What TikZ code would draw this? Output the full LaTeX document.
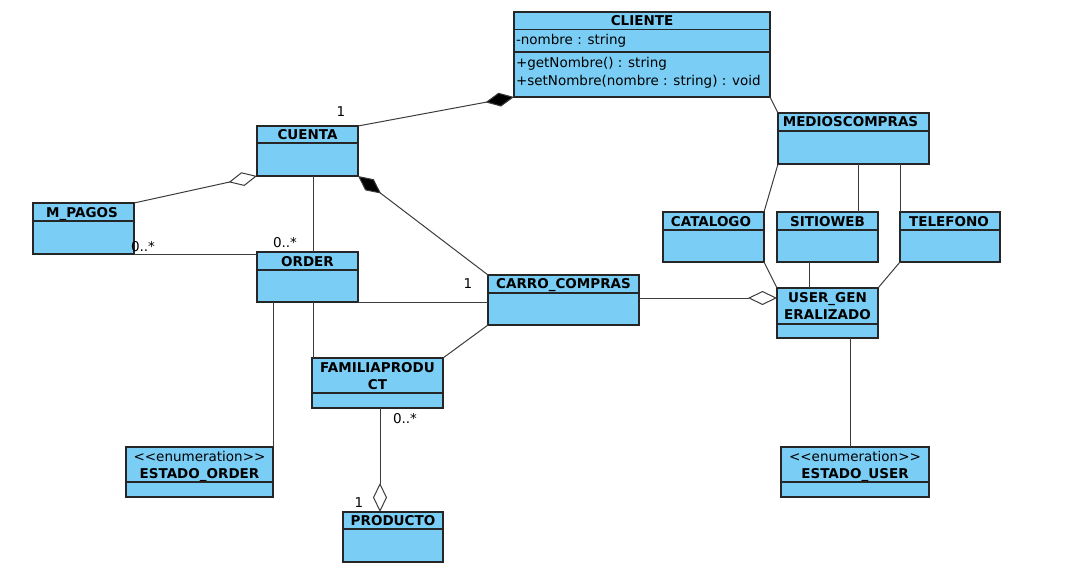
\documentclass[tikz,border=0pt]{standalone}
\usepackage{fontspec}
\setmainfont{DejaVu Sans}
\usetikzlibrary{arrows.meta}
\definecolor{umlblue}{RGB}{122,206,245}
\definecolor{umlline}{RGB}{60,60,60}

\begin{document}
\begin{tikzpicture}
[every node/.style={inner sep=0pt, outer sep=0pt, font=\fontsize{13.5}{17}\selectfont},
 umlbox/.style={rectangle, fill=umlblue, draw=black!85, line width=1.2pt},
 umltitle/.style={anchor=base, font=\fontsize{13.5}{17}\selectfont\bfseries},
 umltext/.style={anchor=base west},
 mult/.style={anchor=base},
 sep/.style={draw=black!85, line width=1.2pt},
 assoc/.style={draw=umlline, line width=1pt},
 aggr/.style={assoc, -{Diamond[open, fill=white, length=29pt, width=14pt]}},
 comp/.style={assoc, {Diamond[fill=black, length=29pt, width=14pt]}-}]
\useasboundingbox (0pt,0pt) rectangle (1065pt,-575pt);
% classes
\node (cliente) [umlbox, minimum width=256pt, minimum height=85pt] at (642pt, -54.5pt) {};
\node (clienteT) [umltitle] at (642pt, -25.6pt) {CLIENTE};
\draw [sep] (cliente.west |- 0pt,-29.5pt) -- (cliente.east |- 0pt,-29.5pt);
\draw [sep] (cliente.west |- 0pt,-52pt) -- (cliente.east |- 0pt,-52pt);
\node (clienteA) [umltext] at (516pt, -45pt) {-nombre : string};
\node (clienteM1) [umltext] at (516pt, -68pt) {+getNombre() : string};
\node (clienteM2) [umltext] at (516pt, -85.5pt) {+setNombre(nombre : string) : void};
\node (cuenta) [umlbox, minimum width=101pt, minimum height=50pt] at (307.5pt, -151pt) {};
\node (cuentaT) [umltitle] at (307.5pt, -139.4pt) {CUENTA};
\draw [sep] (cuenta.west |- 0pt,-143pt) -- (cuenta.east |- 0pt,-143pt);
\node (mpagos) [umlbox, minimum width=101pt, minimum height=51pt] at (83.5pt, -228.5pt) {};
\node (mpagosT) [umltitle] at (82pt, -217pt) {M\_PAGOS};
\draw [sep] (mpagos.west |- 0pt,-221pt) -- (mpagos.east |- 0pt,-221pt);
\node (order) [umlbox, minimum width=101pt, minimum height=50pt] at (307.5pt, -277pt) {};
\node (orderT) [umltitle] at (307.5pt, -266pt) {ORDER};
\draw [sep] (order.west |- 0pt,-270pt) -- (order.east |- 0pt,-270pt);
\node (carro) [umlbox, minimum width=151pt, minimum height=50pt] at (563.5pt, -300pt) {};
\node (carroT) [umltitle] at (563.5pt, -288.9pt) {CARRO\_COMPRAS};
\draw [sep] (carro.west |- 0pt,-293pt) -- (carro.east |- 0pt,-293pt);
\node (medios) [umlbox, minimum width=151pt, minimum height=51pt] at (853.5pt, -138.5pt) {};
\node (mediosT) [umltitle] at (850.5pt, -127pt) {MEDIOSCOMPRAS};
\draw [sep] (medios.west |- 0pt,-131pt) -- (medios.east |- 0pt,-131pt);
\node (catalogo) [umlbox, minimum width=101pt, minimum height=50pt] at (713.5pt, -237pt) {};
\node (catalogoT) [umltitle] at (711pt, -226pt) {CATALOGO};
\draw [sep] (catalogo.west |- 0pt,-230pt) -- (catalogo.east |- 0pt,-230pt);
\node (sitioweb) [umlbox, minimum width=101pt, minimum height=50pt] at (827.5pt, -237pt) {};
\node (sitiowebT) [umltitle] at (827.5pt, -226pt) {SITIOWEB};
\draw [sep] (sitioweb.west |- 0pt,-230pt) -- (sitioweb.east |- 0pt,-230pt);
\node (telefono) [umlbox, minimum width=100pt, minimum height=50pt] at (950pt, -237pt) {};
\node (telefonoT) [umltitle] at (949pt, -226pt) {TELEFONO};
\draw [sep] (telefono.west |- 0pt,-230pt) -- (telefono.east |- 0pt,-230pt);
\node (user) [umlbox, minimum width=101pt, minimum height=50pt] at (827.5pt, -313pt) {};
\node (userT) [umltitle, align=center] at (827.5pt, -319pt) {USER\_GEN\\ERALIZADO};
\draw [sep] (user.west |- 0pt,-324pt) -- (user.east |- 0pt,-324pt);
\node (familia) [umlbox, minimum width=131pt, minimum height=50pt] at (377.5pt, -383pt) {};
\node (familiaT) [umltitle, align=center] at (377.5pt, -389pt) {FAMILIAPRODU\\CT};
\draw [sep] (familia.west |- 0pt,-393pt) -- (familia.east |- 0pt,-393pt);
\node (estorder) [umlbox, minimum width=147pt, minimum height=50pt] at (199.5pt, -472pt) {};
\node (estorderT) [umltitle, align=center] at (199.5pt, -478pt) {{\mdseries <\kern0pt<enumeration>\kern0pt>}\\ESTADO\_ORDER};
\draw [sep] (estorder.west |- 0pt,-482pt) -- (estorder.east |- 0pt,-482pt);
\node (estuser) [umlbox, minimum width=148pt, minimum height=50pt] at (855pt, -472pt) {};
\node (estuserT) [umltitle, align=center] at (855pt, -478pt) {{\mdseries <\kern0pt<enumeration>\kern0pt>}\\ESTADO\_USER};
\draw [sep] (estuser.west |- 0pt,-482pt) -- (estuser.east |- 0pt,-482pt);
\node (producto) [umlbox, minimum width=100pt, minimum height=50pt] at (393pt, -537pt) {};
\node (productoT) [umltitle] at (393pt, -525pt) {PRODUCTO};
\draw [sep] (producto.west |- 0pt,-529pt) -- (producto.east |- 0pt,-529pt);
% connectors
\draw [comp] (cliente.south west) -- (cuenta.north east);
\draw [aggr] (mpagos.north east) -- (cuenta.south west);
\draw [comp] (cuenta.south east) -- (carro.north west);
\draw [assoc] ([xshift=5.5pt]cuenta.south) -- ([xshift=5.5pt]order.north);
\draw [assoc] (mpagos.south east) -- (mpagos.south east -| order.west);
\draw [assoc] (order.south east) -- (order.south east -| carro.west);
\draw [assoc] ([xshift=5.5pt]order.south) -- ([xshift=5.5pt]order.south |- familia.north);
\draw [assoc] (estorder.north east |- order.south) -- (estorder.north east);
\draw [assoc] (carro.south west) -- (familia.north east);
\draw [aggr] ([yshift=2pt]carro.east) -- ([yshift=2pt]carro.east -| user.west);
\draw [aggr] ([xshift=2.5pt]familia.south) -- ([xshift=2.5pt]familia.south |- producto.north);
\draw [assoc] (cliente.south east) -- (medios.north west);
\draw [assoc] (medios.south west) -- (catalogo.north east);
\draw [assoc] ([xshift=4.5pt]medios.south) -- ([xshift=4.5pt]medios.south |- sitioweb.north);
\draw [assoc] (medios.south -| telefono.west) -- (telefono.north west);
\draw [assoc] (catalogo.south east) -- (user.north west);
\draw [assoc] ([xshift=-18.5pt]sitioweb.south) -- ([xshift=-18.5pt]user.north);
\draw [assoc] (telefono.south west) -- (user.north east);
\draw [assoc] ([xshift=22.5pt]user.south) -- ([xshift=22.5pt]user.south |- estuser.north);
% multiplicities
\node (m1) [mult] at (341pt, -117pt) {1};
\node (m2) [mult] at (285pt, -247pt) {0..*};
\node (m3) [mult] at (143pt, -251pt) {0..*};
\node (m4) [mult] at (468pt, -288pt) {1};
\node (m5) [mult] at (405pt, -423pt) {0..*};
\node (m6) [mult] at (359pt, -507pt) {1};
\end{tikzpicture}
\end{document}
